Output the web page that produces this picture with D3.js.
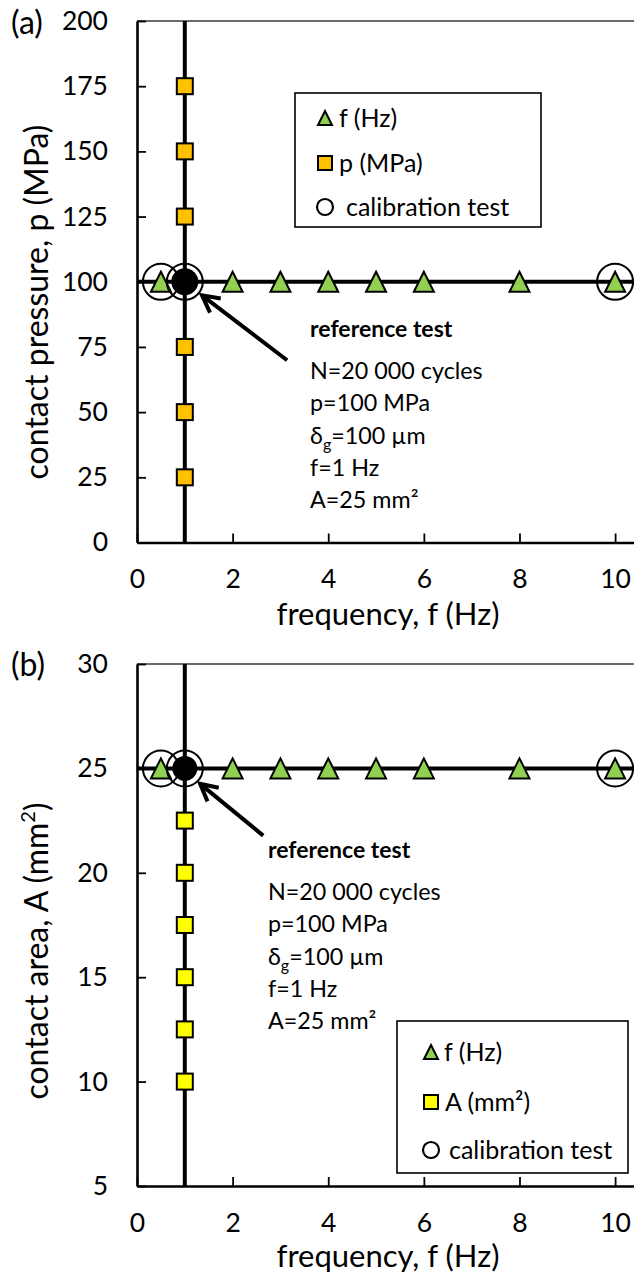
<!DOCTYPE html>
<html><head><meta charset="utf-8">
<script src="https://cdn.jsdelivr.net/npm/d3@7"></script>
<style>
body{margin:0;background:#fff}
svg{display:block;background:#fff}
text{font-family:Lato,"Open Sans",sans-serif;fill:#000}
</style>
</head><body>
<svg id="chart" width="634" height="1277"></svg>
<script>
// ---------- data ----------
const frequencyTicks = [0, 2, 4, 6, 8, 10];
const pressureTicks = [0, 25, 50, 75, 100, 125, 150, 175, 200];
const areaTicks = [5, 10, 15, 20, 25, 30];
const frequencySeries = [0.5, 2, 3, 4, 5, 6, 8, 10];      // f (Hz) triangles
const pressureSeries = [25, 50, 75, 125, 150, 175];        // p (MPa) squares at f = 1 Hz
const areaSeries = [10, 12.5, 15, 17.5, 20, 22.5];         // A (mm²) squares at f = 1 Hz
const calibrationFrequencies = [0.5, 1, 10];               // calibration tests
const referenceFrequency = 1;
const referencePressure = 100;
const referenceArea = 25;
const referenceLines = ["N=20 000 cycles", "p=100 MPa", "δ|g|=100 µm", "f=1 Hz", "A=25 mm²"];

// ---------- layout ----------
const FONT = 'Lato,"Open Sans",sans-serif';
const xAxisMax = 10.5;
const plotLeft = 137, plotRight = 639;
const svg = d3.select("#chart");

const panels = [
  {
    tag: "(a)", tagY: 23, top: 21, bottom: 542.5, yDomain: [0, 200], yTicks: pressureTicks,
    squares: pressureSeries, refY: referencePressure, squareFill: "#FFC000", dotR: 13.5,
    yTitle: [{t: "contact pressure, p (MPa)"}], yTitleY: 302, xTitleY: 625,
    squareLabel: "p (MPa)",
    legend: {x: 295, y: 93, w: 246, h: 134, rows: [25, 70, 114], mx: 30, tx: [44, 44, 51]},
    arrow: {tip: [1.36, 94.8], tail: [3.14, 69.9]},
    note: [3.62, 82.0]
  },
  {
    tag: "(b)", tagY: 665, top: 664, bottom: 1186, yDomain: [5, 30], yTicks: areaTicks,
    squares: areaSeries, refY: referenceArea, squareFill: "#FFFF00", dotR: 12.5,
    yTitle: [{t: "contact area, A (mm"}, {t: "2", sup: true}, {t: ")"}], yTitleY: 951, xTitleY: 1267,
    squareLabel: "A (mm²)",
    legend: {x: 397, y: 1021, w: 231, h: 152, rows: [31, 81, 129], mx: 34, tx: [47, 48, 52]},
    arrow: {tip: [1.32, 24.26], tail: [2.64, 21.78]},
    note: [2.74, 21.1]
  }
];

function trianglePath(cx, cy, s) {
  return `M${cx},${cy - s / 2}L${cx + s / 2},${cy + s / 2}L${cx - s / 2},${cy + s / 2}Z`;
}

panels.forEach(cfg => {
  const x = d3.scaleLinear().domain([0, xAxisMax]).range([plotLeft, plotRight]);
  const y = d3.scaleLinear().domain(cfg.yDomain).range([cfg.bottom, cfg.top]);
  const g = svg.append("g");

  // top frame line
  g.append("line")
    .attr("x1", x(0)).attr("x2", x(xAxisMax))
    .attr("y1", y(cfg.yDomain[1])).attr("y2", y(cfg.yDomain[1]))
    .attr("stroke", "#3a3a3a").attr("stroke-width", 1.6);

  // axes
  const xAxis = d3.axisBottom(x).tickValues(frequencyTicks).tickSizeInner(-9).tickSizeOuter(0)
    .tickPadding(27).tickFormat(d3.format("d"));
  const yAxis = d3.axisLeft(y).tickValues(cfg.yTicks).tickSizeInner(-9).tickSizeOuter(0)
    .tickPadding(29).tickFormat(d3.format("d"));
  const gx = g.append("g").attr("transform", `translate(0,${cfg.bottom})`).call(xAxis);
  const gy = g.append("g").attr("transform", `translate(${plotLeft},0)`).call(yAxis);
  [gx, gy].forEach(a => {
    a.attr("font-family", FONT).attr("font-size", 26.5);
    a.select(".domain").attr("stroke", "#000").attr("stroke-width", 2.6);
    a.selectAll(".tick line").attr("stroke", "#000").attr("stroke-width", 1.8);
    a.selectAll(".tick text").attr("fill", "#000");
  });

  // reference cross lines
  g.append("line")
    .attr("x1", x(referenceFrequency)).attr("x2", x(referenceFrequency))
    .attr("y1", y(cfg.yDomain[0])).attr("y2", y(cfg.yDomain[1]))
    .attr("stroke", "#000").attr("stroke-width", 4);
  g.append("line")
    .attr("x1", x(0)).attr("x2", x(xAxisMax))
    .attr("y1", y(cfg.refY)).attr("y2", y(cfg.refY))
    .attr("stroke", "#000").attr("stroke-width", 4);

  // squares
  g.selectAll(".sq").data(cfg.squares).join("rect")
    .attr("x", d => x(referenceFrequency) - 8).attr("y", d => y(d) - 8)
    .attr("width", 16).attr("height", 16)
    .attr("fill", cfg.squareFill).attr("stroke", "#000").attr("stroke-width", 2);

  // triangles
  g.selectAll(".tri").data(frequencySeries).join("path")
    .attr("d", d => trianglePath(x(d), y(cfg.refY), 20))
    .attr("fill", "#92D050").attr("stroke", "#000").attr("stroke-width", 2)
    .attr("stroke-linejoin", "miter");

  // calibration circles
  g.selectAll(".cal").data(calibrationFrequencies).join("circle")
    .attr("cx", d => x(d)).attr("cy", y(cfg.refY)).attr("r", 18)
    .attr("fill", "none").attr("stroke", "#000").attr("stroke-width", 2);

  // reference test dot
  g.append("circle").attr("cx", x(referenceFrequency)).attr("cy", y(cfg.refY))
    .attr("r", cfg.dotR).attr("fill", "#000");

  // arrow
  const tx = x(cfg.arrow.tip[0]), ty = y(cfg.arrow.tip[1]);
  const sx = x(cfg.arrow.tail[0]), sy = y(cfg.arrow.tail[1]);
  const ang = Math.atan2(ty - sy, tx - sx);
  const L = 19, spread = Math.PI / 6.5;
  const w1 = [tx - L * Math.cos(ang - spread), ty - L * Math.sin(ang - spread)];
  const w2 = [tx - L * Math.cos(ang + spread), ty - L * Math.sin(ang + spread)];
  g.append("path")
    .attr("d", `M${sx},${sy}L${tx},${ty}M${w1[0]},${w1[1]}L${tx},${ty}L${w2[0]},${w2[1]}`)
    .attr("fill", "none").attr("stroke", "#000").attr("stroke-width", 4)
    .attr("stroke-linejoin", "miter").attr("stroke-miterlimit", 10);

  // annotation text
  const nx = x(cfg.note[0]), ny = y(cfg.note[1]);
  g.append("text").attr("x", nx).attr("y", ny).attr("dy", "0.35em")
    .attr("font-size", 23).attr("font-weight", "bold").text("reference test");
  const offsets = [42, 74.5, 107, 139, 171.5];
  referenceLines.forEach((line, i) => {
    const t = g.append("text").attr("x", nx).attr("y", ny + offsets[i]).attr("dy", "0.35em")
      .attr("font-size", 23.3);
    const parts = line.split("|");
    if (parts.length === 3) {
      t.append("tspan").text(parts[0]);
      t.append("tspan").attr("font-size", 16).attr("dy", 6).text(parts[1]);
      t.append("tspan").attr("dy", -6).text(parts[2]);
    } else {
      t.text(line);
    }
  });

  // legend
  const lg = cfg.legend;
  const leg = g.append("g").attr("transform", `translate(${lg.x},${lg.y})`);
  leg.append("rect").attr("width", lg.w).attr("height", lg.h)
    .attr("fill", "#fff").attr("stroke", "#000").attr("stroke-width", 1.6);
  leg.append("path").attr("d", trianglePath(lg.mx, lg.rows[0], 14))
    .attr("fill", "#92D050").attr("stroke", "#000").attr("stroke-width", 2);
  leg.append("rect").attr("x", lg.mx - 7).attr("y", lg.rows[1] - 7).attr("width", 14).attr("height", 14)
    .attr("fill", cfg.squareFill).attr("stroke", "#000").attr("stroke-width", 2);
  leg.append("circle").attr("cx", lg.mx).attr("cy", lg.rows[2]).attr("r", 8)
    .attr("fill", "none").attr("stroke", "#000").attr("stroke-width", 2.2);
  const legendLabels = ["f (Hz)", cfg.squareLabel, "calibration test"];
  legendLabels.forEach((label, i) => {
    leg.append("text").attr("x", lg.tx[i]).attr("y", lg.rows[i]).attr("dy", "0.35em")
      .attr("font-size", 25).text(label);
  });

  // axis titles
  const ytx = 48;
  const yt = g.append("text").attr("x", ytx).attr("y", cfg.yTitleY)
    .attr("transform", `rotate(-90,${ytx},${cfg.yTitleY})`)
    .attr("text-anchor", "middle").attr("font-size", 32);
  cfg.yTitle.forEach((p, i) => {
    const ts = yt.append("tspan").text(p.t);
    if (p.sup) ts.attr("font-size", 20).attr("dy", -13);
    else if (i > 0 && cfg.yTitle[i - 1].sup) ts.attr("dy", 13);
  });
  g.append("text").attr("x", (x(0) + x(xAxisMax)) / 2).attr("y", cfg.xTitleY)
    .attr("text-anchor", "middle").attr("font-size", 31).text("frequency, f (Hz)");

  // panel tag
  g.append("text").attr("x", 11).attr("y", cfg.tagY).attr("dy", "0.35em")
    .attr("font-size", 32).text(cfg.tag);
});
</script>
</body></html>
